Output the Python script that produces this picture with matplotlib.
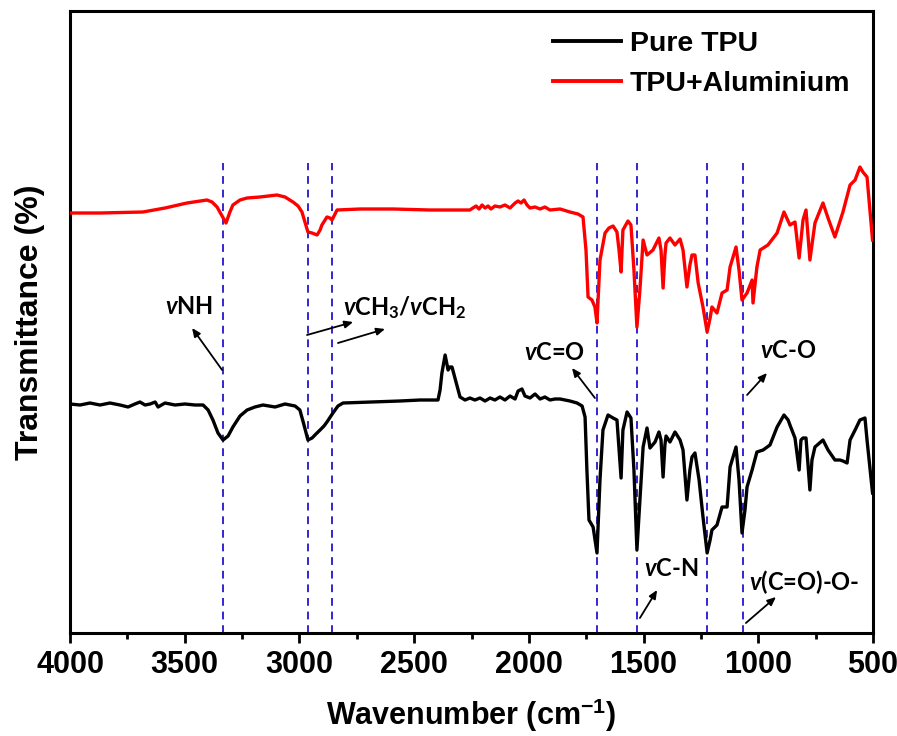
import matplotlib
matplotlib.use("Agg")
import matplotlib.pyplot as plt
from matplotlib import font_manager as fm
from matplotlib.ticker import MultipleLocator

# ---------------- data (wavenumber in cm-1, transmittance in arbitrary units) ----------------
pure_wn = [4000, 3956, 3913, 3869, 3826, 3782, 3747, 3717, 3695, 3673, 3651, 3629, 3616, 3586,
           3542, 3499, 3455, 3420, 3398, 3377, 3355, 3333, 3311, 3290, 3259, 3228, 3194, 3159,
           3106, 3063, 3019, 2998, 2980, 2963, 2945, 2928, 2910, 2893, 2880, 2854, 2832, 2810,
           2692, 2562, 2474, 2396, 2387, 2379, 2365, 2352, 2344, 2335, 2322, 2300, 2278, 2257,
           2235, 2213, 2191, 2169, 2148, 2126, 2104, 2082, 2060, 2047, 2030, 2017, 1995, 1973,
           1951, 1930, 1908, 1886, 1864, 1842, 1821, 1790, 1768, 1755, 1747, 1738, 1720, 1703,
           1690, 1677, 1655, 1633, 1616, 1598, 1590, 1572, 1555, 1542, 1529, 1516, 1502, 1485,
           1472, 1450, 1433, 1424, 1415, 1407, 1402, 1385, 1363, 1341, 1328, 1311, 1298, 1289,
           1276, 1258, 1241, 1223, 1210, 1202, 1180, 1158, 1136, 1123, 1097, 1084, 1071, 1058,
           1049, 1027, 1006, 979, 949, 918, 888, 870, 862, 840, 822, 814, 805, 792, 775, 766,
           753, 718, 696, 666, 644, 631, 613, 600, 578, 557, 535, 526, 502]
pure_t = [229, 228, 230, 228, 230, 228, 226, 229, 231, 228, 229, 231, 226, 230,
          228, 229, 228, 228, 223, 213, 200, 193, 197, 206, 217, 223, 226, 228,
          226, 229, 227, 223, 208, 193, 195, 199, 203, 207, 211, 220, 227, 230,
          231, 232, 233, 233, 243, 260, 278, 263, 266, 266, 255, 236, 233, 235,
          233, 235, 232, 235, 233, 236, 233, 237, 234, 242, 244, 237, 235, 239,
          234, 236, 233, 234, 234, 233, 232, 230, 227, 216, 163, 113, 106, 80,
          153, 203, 218, 215, 213, 155, 203, 221, 215, 163, 83, 133, 186, 205,
          185, 191, 201, 193, 156, 188, 197, 191, 201, 193, 183, 133, 163, 176,
          180, 153, 116, 80, 93, 103, 108, 126, 126, 166, 186, 153, 100, 123,
          146, 163, 181, 183, 188, 206, 218, 213, 208, 195, 163, 193, 195, 195, 143, 173,
          186, 193, 183, 173, 173, 172, 170, 193, 203, 213, 215, 193, 140]

alu_wn = [4000, 3869, 3682, 3586, 3490, 3433, 3403, 3381, 3359, 3337, 3320, 3303, 3290, 3259,
          3228, 3172, 3098, 3063, 3028, 3006, 2989, 2976, 2963, 2945, 2923, 2910, 2902, 2880,
          2867, 2858, 2836, 2736, 2592, 2431, 2257, 2244, 2230, 2217, 2204, 2191, 2178, 2165,
          2148, 2126, 2104, 2082, 2060, 2047, 2034, 2021, 2008, 1995, 1973, 1951, 1930, 1908,
          1864, 1821, 1786, 1764, 1751, 1742, 1725, 1712, 1703, 1690, 1668, 1651, 1633, 1616,
          1607, 1598, 1590, 1568, 1555, 1542, 1529, 1516, 1502, 1485, 1459, 1433, 1424, 1415,
          1407, 1402, 1385, 1363, 1341, 1328, 1311, 1298, 1289, 1276, 1262, 1241, 1223, 1210,
          1202, 1180, 1158, 1136, 1123, 1097, 1084, 1071, 1049, 1027, 1023, 1006, 992, 958,
          918, 888, 862, 840, 822, 805, 792, 775, 753, 718, 696, 666, 631, 600, 578, 557,
          544, 526, 502]
alu_t = [420, 420, 421, 425, 430, 432, 433, 431, 426, 417, 410, 421, 428, 433,
         435, 436, 438, 436, 431, 427, 421, 411, 401, 400, 398, 403, 408, 416,
         415, 413, 423, 424, 424, 423, 423, 425, 427, 424, 428, 425, 427, 424,
         427, 426, 428, 425, 430, 432, 430, 433, 428, 425, 426, 424, 426, 423,
         424, 421, 419, 416, 383, 336, 333, 326, 310, 373, 400, 405, 407, 401,
         383, 361, 403, 412, 408, 363, 306, 343, 393, 378, 383, 395, 383, 345,
         378, 390, 395, 388, 394, 383, 346, 368, 378, 378, 350, 326, 301, 315,
         326, 320, 340, 343, 366, 386, 363, 333, 340, 353, 330, 366, 383, 388,
         400, 421, 408, 411, 375, 413, 423, 373, 410, 430, 415, 396, 421, 448, 453, 466,
         461, 456, 393]

band_positions = [3333, 2963, 2858, 1703, 1529, 1223, 1067]
x_ticks = [4000, 3500, 3000, 2500, 2000, 1500, 1000, 500]
series_labels = ["Pure TPU", "TPU+Aluminium"]

# ---------------- fonts ----------------
names = {f.name for f in fm.fontManager.ttflist}
wide = "Liberation Sans"
anno_font = "Lato" if "Lato" in names else "Open Sans"

plt.rcParams["mathtext.fontset"] = "custom"
plt.rcParams["mathtext.rm"] = f"{anno_font}:bold"
plt.rcParams["mathtext.it"] = f"{anno_font}:italic:bold"
plt.rcParams["mathtext.bf"] = f"{anno_font}:bold"
plt.rcParams["mathtext.sf"] = f"{wide}:bold"

fig = plt.figure(figsize=(8.97, 7.36), dpi=100)
ax = fig.add_axes([70 / 897, 103 / 736, 803 / 897, 622 / 736])

l_red, = ax.plot(alu_wn, alu_t, color="#ff0000", lw=2.4, zorder=3)
l_blk, = ax.plot(pure_wn, pure_t, color="black", lw=2.4, zorder=3)

ax.vlines(band_positions, 0, 470, colors="#3526cf", linestyles=(0, (4, 3)), lw=1.4, zorder=2)

ax.set_xlim(4000, 500)
ax.set_ylim(0, 622)
ax.set_xticks(x_ticks)
ax.xaxis.set_minor_locator(MultipleLocator(250))
ax.set_yticks([])
for s in ax.spines.values():
    s.set_linewidth(2.2)
ax.tick_params(axis="x", which="major", direction="out", length=7, width=2, pad=5)
ax.tick_params(axis="x", which="minor", direction="out", length=4.5, width=2)
for lab in ax.get_xticklabels():
    lab.set_fontfamily(wide)
    lab.set_fontweight("bold")
    lab.set_fontsize(22)

ax.set_xlabel(r"Wavenumber (cm$^{\mathsf{-1}}$)", fontfamily=wide, fontweight="bold",
              fontsize=22, labelpad=12)
ax.set_ylabel("Transmittance (%)", fontfamily=wide, fontweight="bold", fontsize=23, labelpad=18)

leg = ax.legend([l_blk, l_red], series_labels, loc="upper left",
                bbox_to_anchor=((553 - 70) / 803, (633 - 31) / 622), frameon=False,
                prop={"family": wide, "weight": "bold", "size": 20.5},
                handlelength=2.4, handletextpad=0.3, labelspacing=0.5,
                borderpad=0, borderaxespad=0)
for h in leg.get_lines():
    h.set_linewidth(2.8)

afont = dict(fontfamily=anno_font, fontweight="bold", fontsize=17, ha="center", va="center")
arrow = dict(arrowstyle="-|>,head_length=0.5,head_width=0.22", lw=1.3, color="black",
             shrinkA=0, shrinkB=0)

ax.text(3481, 326, r"$v$NH", **afont)
ax.annotate("", xy=(3468, 305), xytext=(3337, 263), arrowprops=arrow)
ax.text(2540, 325, r"$v$CH$_3$/$v$CH$_2$", **afont)
ax.annotate("", xy=(2766, 311), xytext=(2967, 298), arrowprops=arrow)
ax.annotate("", xy=(2627, 304), xytext=(2832, 290), arrowprops=arrow)
ax.text(1890, 281, r"$v$C=O", **afont)
ax.annotate("", xy=(1812, 265), xytext=(1712, 235), arrowprops=arrow)
ax.text(870, 283, r"$v$C-O", **afont)
ax.annotate("", xy=(962, 260), xytext=(1049, 238), arrowprops=arrow)
ax.text(1380, 65, r"$v$C-N", **afont)
ax.annotate("", xy=(1441, 43), xytext=(1516, 15), arrowprops=arrow)
ax.text(801, 51, r"$v$(C=O)-O-", **afont)
ax.annotate("", xy=(923, 36), xytext=(1054, 10), arrowprops=arrow)

fig.savefig("out.png", dpi=100)
